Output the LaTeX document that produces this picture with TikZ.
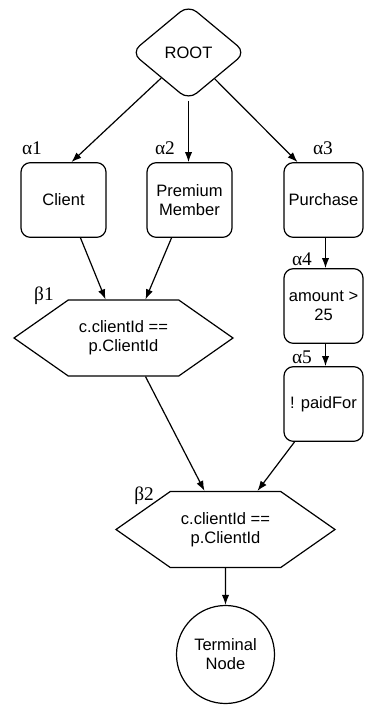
\documentclass[tikz,border=0pt]{standalone}
\usepackage{fontspec}
\setmainfont{Liberation Serif}
\setsansfont{Liberation Sans}
\usetikzlibrary{shapes.geometric,shapes.symbols,calc,arrows.meta}

\tikzset{
  boxtext/.style={font=\sffamily\fontsize{12.4}{14.25}\selectfont, align=center},
  rootnode/.style={boxtext, draw, shape=diamond, rounded corners=8pt,
    minimum width=86pt, minimum height=71.5pt, inner sep=0pt},
  alphabox/.style={boxtext, draw, rounded corners=7pt,
    minimum width=63.75pt, minimum height=56pt, inner sep=0pt},
  alphanarrow/.style={alphabox, minimum width=59.25pt},
  betahex/.style={boxtext, draw, shape=signal, signal to=west and east,
    signal pointer angle=70, minimum width=164.25pt, minimum height=57pt, inner sep=0pt},
  termnode/.style={boxtext, draw, circle, minimum size=73.5pt, inner sep=0pt},
  greek/.style={font=\fontsize{14.5}{16}\selectfont}
}

\begin{document}
\begin{tikzpicture}[x=0.75pt, y=-0.75pt, line width=0.9pt,
    >={Latex[length=7.5pt,width=5.5pt]}]
  \useasboundingbox (0,0) rectangle (364,706);
  \def\Ytop{200};
  \def\Xr{323.5};

  % root
  \node[rootnode] (root) at (188.5, 52.5) {ROOT};

  % alpha nodes
  \node[alphabox] (client) at (63.5, \Ytop) {Client};
  \node[alphabox] (premium) at (189.5, \Ytop) {Premium\\Member};
  \node[alphanarrow] (purchase) at (\Xr, \Ytop) {Purchase};
  \node[alphanarrow] (amount) at (\Xr, 306) {amount >\\25};
  \node[alphanarrow] (paidfor) at (\Xr, 404) {! paidFor};

  % beta nodes
  \node[betahex] (b1) at (123.5, 338) {c.clientId ==\\p.ClientId};
  \node[betahex] (b2) at (225.5, 529.5) {c.clientId ==\\p.ClientId};

  % terminal
  \node[termnode] (terminal) at (225.5, 654.5) {Terminal\\Node};

  % labels
  \node[greek] (la1) at (32, 148) {α1};
  \node[greek] (la2) at (165, 148) {α2};
  \node[greek] (la3) at (323, 148) {α3};
  \node[greek] (la4) at (302, 259) {α4};
  \node[greek] (la5) at (302, 357) {α5};
  \node[greek] (lb1) at (44, 296) {β1};
  \node[greek] (lb2) at (144, 496) {β2};

  % arrows
  \draw[->] (root) -- ($(client.north)+(8,0)$);
  \draw[->] (root.south) -- (root.south |- premium.north);
  \draw[->] (root) -- ($(purchase.north)+(-26,0)$);
  \draw[->] ($(client.south)+(17,0)$) -- ($(b1.north)+(-18,0)$);
  \draw[->] ($(premium.south)+(-18,0)$) -- ($(b1.north)+(22,0)$);
  \draw[->] ($(purchase.south)+(2,0)$) -- ($(amount.north)+(2,0)$);
  \draw[->] ($(amount.south)+(2,0)$) -- ($(paidfor.north)+(2,0)$);
  \draw[->] ($(b1.south)+(22,0)$) -- ($(b2.north)+(-21,0)$);
  \draw[->] ($(paidfor.south)+(-29,0)$) -- ($(b2.north)+(32,0)$);
  \draw[->] (b2) -- (terminal);
\end{tikzpicture}
\end{document}
